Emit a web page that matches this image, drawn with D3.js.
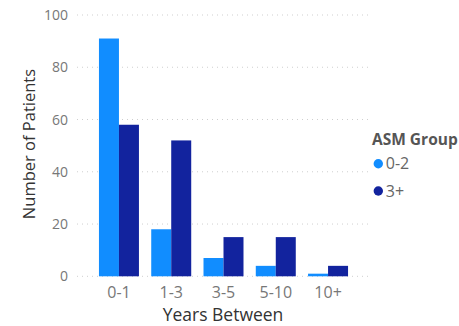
<!DOCTYPE html>
<html><head><meta charset="utf-8">
<script src="https://cdn.jsdelivr.net/npm/d3@7"></script>
<style>body{margin:0;background:#fff;overflow:hidden;} svg{display:block;font-family:"Open Sans","Noto Sans",sans-serif;}</style>
</head><body>
<svg id="c" width="459" height="326"></svg>
<script>
const categories = ["0-1","1-3","3-5","5-10","10+"];
const seriesNames = ["0-2","3+"];
const values02 = [91,18,7,4,1];
const values3p = [58,52,15,15,4];
const yTicks = [0,20,40,60,80,100];
const colors = ["#118DFF","#12239E"];

const svg = d3.select("#c");
const x0 = d3.scaleBand().domain(categories).range([77,370]).paddingInner(0.235).paddingOuter(0.42);
const x1 = d3.scaleBand().domain(seriesNames).range([0,x0.bandwidth()]);
const y = d3.scaleLinear().domain([0,100]).range([276.3,15]);
const color = d3.scaleOrdinal().domain(seriesNames).range(colors);

// grid
svg.append("g").selectAll("line").data(yTicks).join("line")
  .attr("x1",77).attr("x2",370).attr("y1",d=>y(d)).attr("y2",d=>y(d))
  .attr("stroke","#cfcfcf").attr("stroke-width",1).attr("stroke-dasharray","1,4");

// y axis
const ya = svg.append("g").attr("transform","translate(68,0)")
  .call(d3.axisLeft(y).tickValues(yTicks).tickSize(0).tickPadding(0));
ya.select(".domain").remove();
ya.selectAll("text").attr("fill","#777").attr("font-size",14).attr("font-family","'Open Sans','Noto Sans',sans-serif");

// x axis
const xa = svg.append("g").attr("transform","translate(0,298)")
  .call(d3.axisBottom(x0).tickSize(0).tickPadding(0));
xa.select(".domain").remove();
xa.selectAll("text").attr("fill","#777").attr("font-size",16).attr("y",0).attr("dy",0).attr("font-family","'Open Sans','Noto Sans',sans-serif");

// bars
const data = categories.map((c,i)=>({cat:c, vals:[{s:"0-2",v:values02[i]},{s:"3+",v:values3p[i]}]}));
svg.append("g").selectAll("g").data(data).join("g")
  .attr("transform",d=>`translate(${x0(d.cat)},0)`)
  .selectAll("rect").data(d=>d.vals).join("rect")
  .attr("x",d=>x1(d.s)).attr("width",x1.bandwidth())
  .attr("y",d=>y(d.v)).attr("height",d=>y(0)-y(d.v))
  .attr("fill",d=>color(d.s));

// axis titles
svg.append("text").attr("x",223).attr("y",321).attr("text-anchor","middle")
  .attr("font-size",17.5).attr("fill","#333").text("Years Between");
svg.append("text").attr("transform","translate(34.5,144) rotate(-90)").attr("text-anchor","middle")
  .attr("font-size",16.5).attr("fill","#333").text("Number of Patients");

// legend
svg.append("text").attr("x",372).attr("y",145).attr("font-size",15.5).attr("font-weight","bold").attr("fill","#555").text("ASM Group");
const lg = svg.append("g").selectAll("g").data(seriesNames).join("g")
  .attr("transform",(d,i)=>`translate(378.3,${163.7+i*27.3})`);
lg.append("circle").attr("r",4.7).attr("fill",d=>color(d));
lg.append("text").attr("x",7.5).attr("dy","0.36em").attr("font-size",16).attr("fill","#666").text(d=>d);
</script>
</body></html>
